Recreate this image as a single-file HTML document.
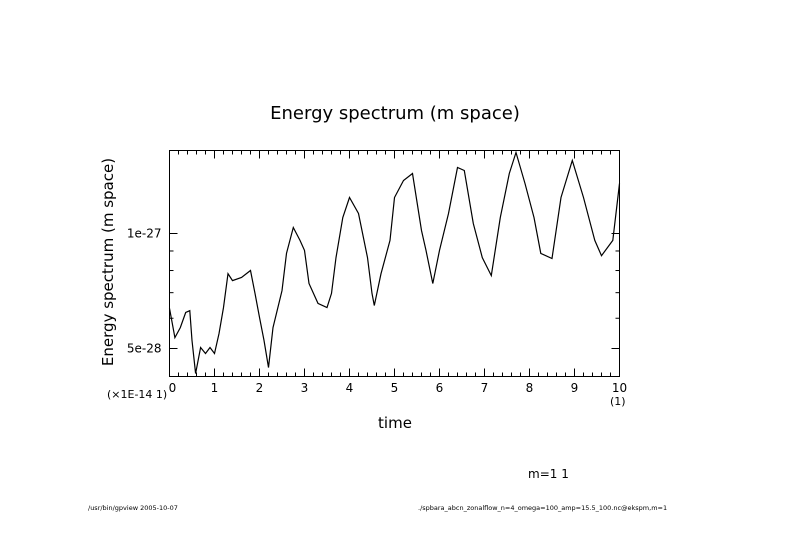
<!DOCTYPE html>
<html><head><meta charset="utf-8"><style>
html,body{margin:0;padding:0;background:#fff}
svg{display:block;font-family:"DejaVu Sans","Liberation Sans",sans-serif}
</style></head><body>
<svg id="chart" width="789" height="558" viewBox="0 0 789 558">
<text x="395" y="119" font-size="18" text-anchor="middle">Energy spectrum (m space)</text>
<text transform="translate(113,262) rotate(-90)" font-size="15" text-anchor="middle">Energy spectrum (m space)</text>
<text x="395" y="428" font-size="15" text-anchor="middle">time</text>
<text x="107" y="398" font-size="11">(×1E-14 1)</text>
<text x="610" y="405" font-size="11">(1)</text>
<text x="528" y="478" font-size="12">m=1 1</text>
<text x="88" y="510" font-size="6.5">/usr/bin/gpview  2005-10-07</text>
<text x="418" y="510" font-size="6.5">./spbara_abcn_zonalflow_n=4_omega=100_amp=15.5_100.nc@ekspm,m=1</text>
<g id="axes"></g>
<path id="series" fill="none" stroke="#000" stroke-width="1.2"></path>
<rect x="169.5" y="150.5" width="450" height="226" fill="none" stroke="#000" stroke-width="1"/>
</svg>
<script>
const times=[0,0.12,0.24,0.36,0.45,0.5,0.58,0.69,0.8,0.9,1.0,1.1,1.2,1.3,1.4,1.6,1.8,1.9,2.0,2.1,2.2,2.3,2.5,2.6,2.75,2.9,3.0,3.1,3.3,3.5,3.6,3.7,3.85,4.0,4.2,4.4,4.5,4.55,4.7,4.9,5.0,5.2,5.4,5.6,5.7,5.85,6.0,6.2,6.4,6.55,6.75,6.95,7.15,7.35,7.55,7.7,7.9,8.1,8.25,8.5,8.7,8.95,9.2,9.45,9.6,9.85,10.0];
const energy=[6.37,5.34,5.67,6.21,6.28,5.25,4.30,5.03,4.85,5.03,4.85,5.47,6.40,7.85,7.53,7.67,8.00,6.97,6.03,5.25,4.46,5.67,7.09,8.87,10.37,9.59,9.03,7.40,6.56,6.40,6.97,8.65,11.01,12.42,11.28,8.65,6.97,6.48,7.85,9.59,12.42,13.76,14.36,10.18,9.03,7.40,9.03,11.28,14.89,14.62,10.62,8.65,7.76,11.01,14.36,16.29,13.52,11.01,8.87,8.60,12.42,15.53,12.42,9.59,8.75,9.59,13.52];
const xTickLabels=["0","1","2","3","4","5","6","7","8","9","10"];
const yMajorTicks=[5,10];
const yMajorLabels=["5e-28","1e-27"];
const yMinorTicks=[6,7,8,9];
const SCALE=1e-28;
const X0=169.5,X1=619.5,Y0=376.5,Y1=150.5;
function xs(t){return X0+(t-0)/10*(X1-X0);}
function ys(v){return 233.5-382*Math.log10(v/10);}
const NS="http://www.w3.org/2000/svg";
const ax=document.getElementById('axes');
function line(x1,y1,x2,y2,name){const l=document.createElementNS(NS,'line');l.setAttribute('x1',x1);l.setAttribute('y1',y1);l.setAttribute('x2',x2);l.setAttribute('y2',y2);l.setAttribute('stroke','#000');


ax.appendChild(l);}
function text(x,y,s,anchor,name){const t=document.createElementNS(NS,'text');t.setAttribute('x',x);t.setAttribute('y',y);t.setAttribute('font-size','12');t.setAttribute('text-anchor',anchor);t.textContent=s;


ax.appendChild(t);}
for(let i=0;i<=50;i++){const t=i*0.2;const x=xs(t);const L=(i%5===0)?8:4;
line(x,Y0,x,Y0-L,'x-tick');line(x,Y1,x,Y1+L,'x-tick-top');}
xTickLabels.forEach((s,i)=>text(xs(i)+(i===0?3:0),392,s,'middle','x-tick-label'));
yMajorTicks.forEach((v,i)=>{const y=ys(v);line(X0,y,X0+8,y,'y-tick');line(X1,y,X1-8,y,'y-tick-right');text(X0-8,y+4,yMajorLabels[i],'end','y-tick-label');});
yMinorTicks.forEach(v=>{const y=ys(v);line(X0,y,X0+4,y,'y-minor-tick');line(X1,y,X1-4,y,'y-minor-tick-right');});
let d='';
times.forEach((t,i)=>{let y=ys(energy[i]);y=Math.max(Y1,Math.min(Y0,y));d+=(i?'L':'M')+xs(t).toFixed(1)+','+y.toFixed(1);});
document.getElementById('series').setAttribute('d',d);
</script>
</body></html>
